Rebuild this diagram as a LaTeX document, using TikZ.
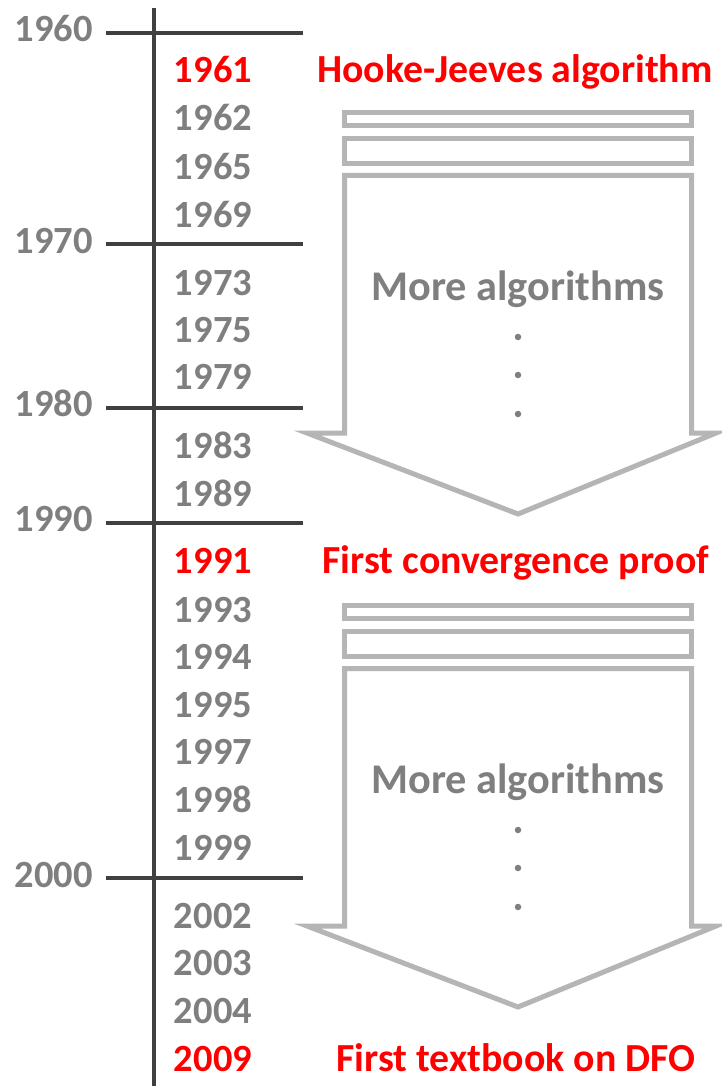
\documentclass[tikz,border=0pt]{standalone}
\usepackage{fontspec}
\setmainfont{Carlito}
\definecolor{axisgray}{HTML}{404040}
\definecolor{yeargray}{HTML}{7F7F7F}
\definecolor{blockgray}{HTML}{B5B5B5}
\definecolor{hired}{HTML}{FF0000}
\begin{document}
\begin{tikzpicture}[x=1pt,y=-1pt,
  major/.style={anchor=base east,inner sep=0pt,text=yeargray,font=\fontsize{38.5}{40}\selectfont\bfseries},
  minor/.style={anchor=base,inner sep=0pt,text=yeargray,font=\fontsize{38.5}{40}\selectfont\bfseries},
  hiyear/.style={minor,text=hired},
  milestone/.style={anchor=base,inner sep=0pt,text=hired,font=\fontsize{39.8}{42}\selectfont\bfseries},
  moretext/.style={anchor=base,inner sep=0pt,text=yeargray,font=\fontsize{42.3}{44}\selectfont\bfseries},
  tick/.style={draw=axisgray,line width=3.3pt},
  block/.style={draw=blockgray,line width=5pt,fill=white,line join=miter},
  dotmark/.style={circle,fill=yeargray,inner sep=0pt,minimum size=6.5pt}]
\useasboundingbox (0,0) rectangle (721,1086);

% timeline axis
\coordinate (axtop) at (154,8);
\coordinate (axbot) at (154,1086);
\draw[tick] (axtop) -- (axbot);

% decade ticks and labels
\foreach \yr/\ty/\by in {1960/33/42,1970/244/253,1980/408/416,1990/523/531,2000/878/887}{
  \coordinate (t\yr a) at (106,\ty);
  \coordinate (t\yr b) at (303,\ty);
  \draw[tick] (t\yr a) -- (t\yr b);
  \node[major] (lab\yr) at (93,\by) {\yr};
}

% individual years
\foreach \yr/\by in {1962/131,1965/179,1969/227,1973/295,1975/342,1979/389,
  1983/458,1989/506,1993/622,1994/669,1995/717,1997/764,1998/812,1999/860,
  2002/928,2003/975,2004/1023}{
  \node[minor] (y\yr) at (213,\by) {\yr};
}
\node[hiyear] (y1961) at (213,83) {1961};
\node[hiyear] (y1991) at (213,573) {1991};
\node[hiyear] (y2009) at (213,1071) {2009};

% milestones
\node[milestone] (hj)   at (515,83)   {Hooke-Jeeves algorithm};
\node[milestone] (conv) at (516,573)  {First convergence proof};
\node[milestone] (book) at (516,1071) {First textbook on DFO};

% striped block arrows
\foreach \s/\nm in {0/A,493/B}{
  \begin{scope}[yshift=-\s pt]
    \draw[block] (344.5,112.5) rectangle (691.5,125.5);
    \draw[block] (344.5,138.5) rectangle (691.5,163.5);
    \draw[block] (344.5,175.5) -- (691.5,175.5) -- (691.5,433) -- (716,433)
      -- (518,514) -- (307,433) -- (344.5,433) -- cycle;
    \node[moretext] (more\nm) at (518,300) {More algorithms};
    \node[dotmark] (d\nm1) at (518,337) {};
    \node[dotmark] (d\nm2) at (518,375) {};
    \node[dotmark] (d\nm3) at (518,414) {};
  \end{scope}
}
\end{tikzpicture}
\end{document}
